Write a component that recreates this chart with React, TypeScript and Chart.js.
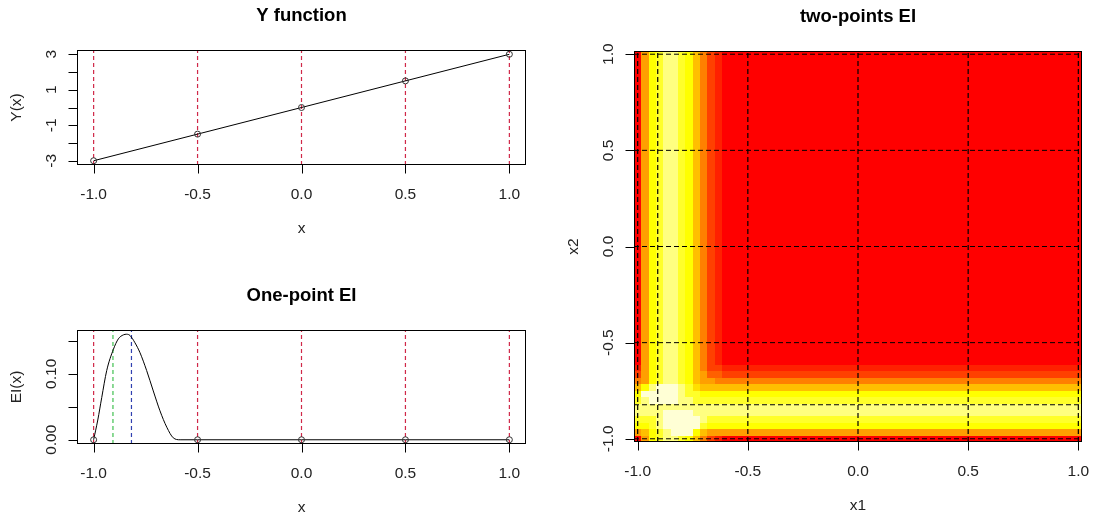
import React, { useEffect, useRef } from "react";
import { Chart, registerables } from "chart.js";

Chart.register(...registerables);

const FONT = "'Liberation Sans', Arial, sans-serif";

// ---- data: design points and Y function ----
const DESIGN_X = [-1, -0.5, 0, 0.5, 1];
const DESIGN_Y = [-3, -1.5, 0, 1.5, 3];
const DESIGN_EI = [0, 0, 0, 0, 0];

// ---- one-point EI curve ----
const EI_X = [-1, -0.98, -0.961, -0.937, -0.905, -0.881, -0.857, -0.841, -0.825, -0.801, -0.777, -0.745, -0.713, -0.681, -0.648, -0.617, -0.584, -0.5, 0, 0.5, 1];
const EI_Y = [0, 0.03, 0.064, 0.105, 0.137, 0.153, 0.159, 0.16, 0.158, 0.147, 0.132, 0.105, 0.074, 0.044, 0.019, 0.003, 0, 0, 0, 0, 0];

// optimum markers
const GREEN_X = -0.907;
const BLUE_X = -0.818;
const OPT_X1 = -0.909;
const OPT_X2 = -0.823;

// ---- axis ticks ----
const X_TICKS = [-1, -0.5, 0, 0.5, 1];
const X_LABELS = ["-1.0", "-0.5", "0.0", "0.5", "1.0"];
const Y_TICKS = [-3, -2, -1, 0, 1, 2, 3];
const Y_LABELS = ["-3", "", "-1", "", "1", "", "3"];
const EI_TICKS = [0, 0.05, 0.1, 0.15];
const EI_LABELS = ["0.00", "", "0.10", ""];

// ---- two-points EI heat map (levels of heat.colors(12)) ----
const GRID_N = 61;
// level of the band along one coordinate, cells from -1 upward (rest is 0)
const BAND_LEVELS = [0, 5, 8, 9, 10, 10, 9, 8, 6, 4, 2, 1, 0];
// lower-left 13x13 corner, row k = x2 cell k (from -1 up), column = x1 cell
const CORNER_LEVELS = [
  "0589aa9864210",
  "5689abbb86555",
  "889abbbbb9888",
  "999abbbbba999",
  "aaaabbbbaaaaa",
  "aaaaaaaaaaaaa",
  "9abbbbaa99999",
  "8bbbbba998888",
  "68abbba976666",
  "4589aa9865544",
  "2589aa9865332",
  "1589aa9864221",
  "0589aa9864210",
];
const HEAT_COLORS = ["#FF0000", "#FF2000", "#FF4000", "#FF6000", "#FF8000", "#FF9F00", "#FFBF00", "#FFDF00", "#FFFF00", "#FFFF2A", "#FFFF80", "#FFFFD5"];

const RED_DASH = "#d02848";

function levelAt(i: number, j: number): number {
  const n = CORNER_LEVELS.length;
  if (i < n && j < n) return parseInt(CORNER_LEVELS[j][i], 16);
  if (i < n) return BAND_LEVELS[i];
  if (j < n) return BAND_LEVELS[j];
  return 0;
}

const rAxesPlugin = {
  id: "rAxes",
  afterDraw(chart: any, _args: any, opts: any) {
    const { ctx, chartArea: a, scales } = chart;
    const xs = scales.x;
    const ys = scales.y;
    ctx.save();
    ctx.setLineDash([]);
    ctx.strokeStyle = "#000";
    ctx.lineWidth = 1;
    const L = Math.round(a.left) + 0.5;
    const R = Math.round(a.right) - 0.5;
    const T = Math.round(a.top) + 0.5;
    const B = Math.round(a.bottom) - 0.5;
    ctx.strokeRect(L, T, R - L, B - T);
    ctx.beginPath();
    opts.xTicks.forEach((v: number) => {
      const px = Math.round(xs.getPixelForValue(v)) + 0.5;
      ctx.moveTo(px, B);
      ctx.lineTo(px, B + 9);
    });
    opts.yTicks.forEach((v: number) => {
      const py = Math.round(ys.getPixelForValue(v)) + 0.5;
      ctx.moveTo(L, py);
      ctx.lineTo(L - 9, py);
    });
    ctx.stroke();
    ctx.fillStyle = "#222";
    ctx.font = `15.5px ${FONT}`;
    ctx.textAlign = "center";
    ctx.textBaseline = "middle";
    opts.xTicks.forEach((v: number, k: number) => {
      ctx.fillText(opts.xLabels[k], xs.getPixelForValue(v), a.bottom + 30);
    });
    opts.yTicks.forEach((v: number, k: number) => {
      if (!opts.yLabels[k]) return;
      ctx.save();
      ctx.translate(a.left - 25, ys.getPixelForValue(v));
      ctx.rotate(-Math.PI / 2);
      ctx.fillText(opts.yLabels[k], 0, 0);
      ctx.restore();
    });
    ctx.fillText(opts.xTitle, (a.left + a.right) / 2, a.bottom + 64);
    ctx.save();
    ctx.translate(a.left - 60, (a.top + a.bottom) / 2);
    ctx.rotate(-Math.PI / 2);
    ctx.fillText(opts.yTitle, 0, 0);
    ctx.restore();
    ctx.fillStyle = "#000";
    ctx.font = `bold 18.5px ${FONT}`;
    ctx.fillText(opts.title, (a.left + a.right) / 2, a.top - 34);
    ctx.restore();
  },
};

const heatPlugin = {
  id: "heat",
  beforeDatasetsDraw(chart: any) {
    const { ctx, scales } = chart;
    const xs = scales.x;
    const ys = scales.y;
    const step = 2 / (GRID_N - 1);
    ctx.save();
    for (let i = 0; i < GRID_N; i++) {
      const cx = -1 + i * step;
      const l = Math.round(xs.getPixelForValue(cx - step / 2));
      const r = Math.round(xs.getPixelForValue(cx + step / 2));
      for (let j = 0; j < GRID_N; j++) {
        const cy = -1 + j * step;
        const t = Math.round(ys.getPixelForValue(cy + step / 2));
        const b = Math.round(ys.getPixelForValue(cy - step / 2));
        ctx.fillStyle = HEAT_COLORS[levelAt(i, j)];
        ctx.fillRect(l, t, r - l, b - t);
      }
    }
    ctx.restore();
  },
};

function vline(x: number, y0: number, y1: number, color: string, dash: number[]) {
  return {
    data: [{ x, y: y0 }, { x, y: y1 }],
    showLine: true,
    borderColor: color,
    borderWidth: 1.2,
    borderDash: dash,
    pointRadius: 0,
    order: 3,
  };
}
function hline(y: number, x0: number, x1: number, color: string, dash: number[]) {
  return {
    data: [{ x: x0, y }, { x: x1, y }],
    showLine: true,
    borderColor: color,
    borderWidth: 1,
    borderDash: dash,
    pointRadius: 0,
    order: 3,
  };
}

function baseOptions(padding: any, xr: number[], yr: number[], axes: any) {
  return {
    responsive: false,
    animation: false,
    devicePixelRatio: 1,
    layout: { padding },
    plugins: { legend: { display: false }, tooltip: { enabled: false }, title: { display: false }, rAxes: axes },
    scales: {
      x: { type: "linear", min: xr[0], max: xr[1], display: false },
      y: { type: "linear", min: yr[0], max: yr[1], display: false },
    },
    events: [],
  };
}

export default function App() {
  const r1 = useRef<HTMLCanvasElement>(null);
  const r2 = useRef<HTMLCanvasElement>(null);
  const r3 = useRef<HTMLCanvasElement>(null);

  useEffect(() => {
    const XR = [-1.08, 1.08];
    const YR = [-3.24, 3.24];
    const ER = [-0.0064, 0.1664];
    const HR = [-1 - 1 / (GRID_N - 1), 1 + 1 / (GRID_N - 1)];

    const c1 = new Chart(r1.current!, {
      type: "scatter",
      data: {
        datasets: [
          {
            data: DESIGN_X.map((x, k) => ({ x, y: DESIGN_Y[k] })),
            pointStyle: "circle",
            pointRadius: 3,
            borderColor: "#333",
            backgroundColor: "rgba(0,0,0,0)",
            borderWidth: 1,
            order: 0,
          } as any,
          {
            data: DESIGN_X.map((x, k) => ({ x, y: DESIGN_Y[k] })),
            showLine: true,
            borderColor: "#000",
            borderWidth: 1,
            pointRadius: 0,
            order: 1,
          },
          ...DESIGN_X.map((x) => vline(x, YR[0], YR[1], RED_DASH, [4, 3])),
        ],
      },
      options: baseOptions({ left: 77, top: 50, right: 34, bottom: 95 }, XR, YR, {
        xTicks: X_TICKS, xLabels: X_LABELS, yTicks: Y_TICKS, yLabels: Y_LABELS,
        xTitle: "x", yTitle: "Y(x)", title: "Y function",
      }) as any,
      plugins: [rAxesPlugin],
    });

    const c2 = new Chart(r2.current!, {
      type: "scatter",
      data: {
        datasets: [
          {
            data: DESIGN_X.map((x, k) => ({ x, y: DESIGN_EI[k] })),
            pointStyle: "circle",
            pointRadius: 3,
            borderColor: "#333",
            backgroundColor: "rgba(0,0,0,0)",
            borderWidth: 1,
            order: 0,
          } as any,
          {
            data: EI_X.map((x, k) => ({ x, y: EI_Y[k] })),
            showLine: true,
            borderColor: "#000",
            borderWidth: 1,
            pointRadius: 0,
            cubicInterpolationMode: "monotone",
            order: 1,
          },
          ...DESIGN_X.map((x) => vline(x, ER[0], ER[1], RED_DASH, [4, 3])),
          vline(GREEN_X, ER[0], ER[1], "#40c050", [4, 3]),
          vline(BLUE_X, ER[0], ER[1], "#3040b0", [4, 3]),
        ],
      },
      options: baseOptions({ left: 77, top: 70, right: 34, bottom: 77 }, XR, ER, {
        xTicks: X_TICKS, xLabels: X_LABELS, yTicks: EI_TICKS, yLabels: EI_LABELS,
        xTitle: "x", yTitle: "EI(x)", title: "One-point EI",
      }) as any,
      plugins: [rAxesPlugin],
    });

    const c3 = new Chart(r3.current!, {
      type: "scatter",
      data: {
        datasets: [
          ...[...X_TICKS, OPT_X1].map((x) => vline(x, HR[0], HR[1], "#000", [5, 3])),
          ...[...X_TICKS, OPT_X2].map((y) => hline(y, HR[0], HR[1], "#000", [5, 3])),
        ],
      },
      options: baseOptions({ left: 74, top: 51, right: 14, bottom: 79 }, HR, HR, {
        xTicks: X_TICKS, xLabels: X_LABELS, yTicks: X_TICKS, yLabels: X_LABELS,
        xTitle: "x1", yTitle: "x2", title: "two-points EI",
      }) as any,
      plugins: [heatPlugin, rAxesPlugin],
    });

    return () => {
      c1.destroy();
      c2.destroy();
      c3.destroy();
    };
  }, []);

  return (
    <div style={{ position: "absolute", left: 0, top: 0, width: 1096, height: 521, background: "#fff", overflow: "hidden" }}>
      <canvas ref={r1} width={560} height={260} style={{ position: "absolute", left: 0, top: 0, width: 560, height: 260 }} />
      <canvas ref={r2} width={560} height={261} style={{ position: "absolute", left: 0, top: 260, width: 560, height: 261 }} />
      <canvas ref={r3} width={536} height={521} style={{ position: "absolute", left: 560, top: 0, width: 536, height: 521 }} />
    </div>
  );
}
